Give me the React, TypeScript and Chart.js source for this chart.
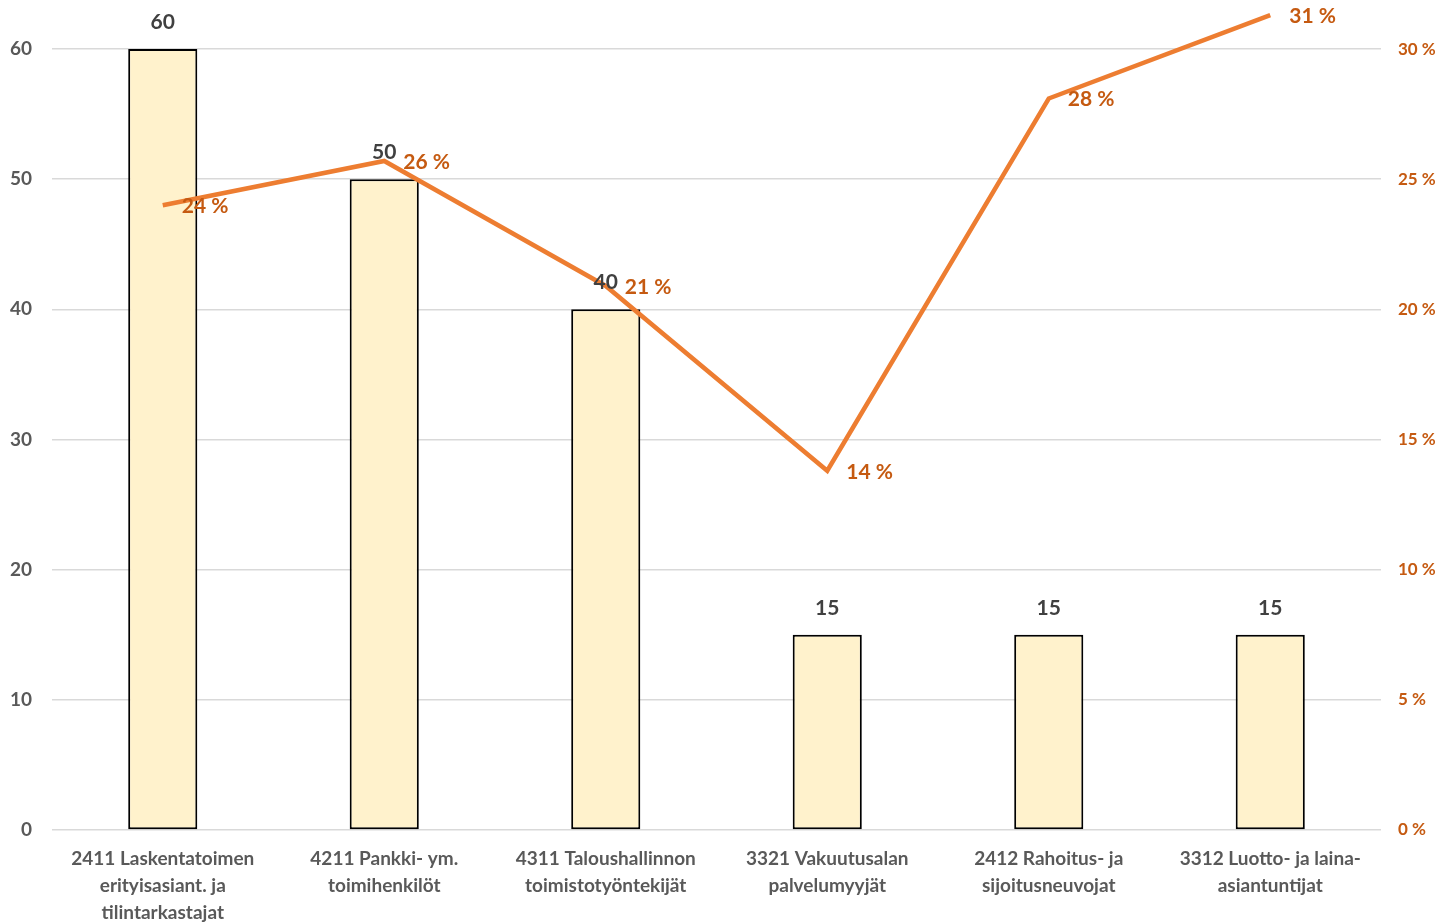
import React, { useEffect, useRef } from "react";
import { Chart, registerables } from "chart.js";

Chart.register(...registerables);

const categories: string[][] = [
  ["2411 Laskentatoimen", "erityisasiant. ja", "tilintarkastajat"],
  ["4211 Pankki- ym.", "toimihenkilöt"],
  ["4311 Taloushallinnon", "toimistotyöntekijät"],
  ["3321 Vakuutusalan", "palvelumyyjät"],
  ["2412 Rahoitus- ja", "sijoitusneuvojat"],
  ["3312 Luotto- ja laina-", "asiantuntijat"],
];
const barValues = [60, 50, 40, 15, 15, 15];
const pctValues = [24.0, 25.7, 20.9, 13.8, 28.1, 31.3];
const leftTicks = [0, 10, 20, 30, 40, 50, 60];
const rightTicks = [0, 5, 10, 15, 20, 25, 30];

const FONT = 'Lato, "Open Sans", sans-serif';
const GRAY = "#595959";
const DARK = "#404040";
const ORANGE_TXT = "#C55A11";
const ORANGE = "#ED7D31";

const labelPlugin = {
  id: "valueLabels",
  afterDatasetsDraw(chart: any) {
    const ctx = chart.ctx;
    ctx.save();
    const barMeta = chart.getDatasetMeta(0);
    ctx.font = `bold 21px ${FONT}`;
    ctx.fillStyle = DARK;
    ctx.textAlign = "center";
    ctx.textBaseline = "middle";
    barMeta.data.forEach((el: any, i: number) => {
      ctx.fillText(String(barValues[i]), el.x, el.y - 27);
    });
    const lineMeta = chart.getDatasetMeta(1);
    ctx.fillStyle = ORANGE_TXT;
    ctx.textAlign = "left";
    lineMeta.data.forEach((el: any, i: number) => {
      ctx.fillText(`${Math.round(pctValues[i])} %`, el.x + 19, el.y + 1);
    });
    ctx.restore();
  },
};

export default function App() {
  const ref = useRef<HTMLCanvasElement>(null);
  useEffect(() => {
    document.body.style.margin = "0";
    const chart = new Chart(ref.current!, {
      type: "bar",
      data: {
        labels: categories,
        datasets: [
          {
            type: "bar",
            data: barValues,
            yAxisID: "y",
            backgroundColor: "#FFF2CC",
            borderColor: "#000000",
            borderWidth: 2,
            borderSkipped: false,
            categoryPercentage: 1,
            barPercentage: 0.312,
            order: 2,
          } as any,
          {
            type: "line",
            data: pctValues,
            yAxisID: "y1",
            borderColor: ORANGE,
            borderWidth: 4.5,
            pointRadius: 0,
            tension: 0,
            clip: false,
            order: 1,
          } as any,
        ],
      },
      options: {
        animation: false,
        responsive: true,
        maintainAspectRatio: false,
        layout: { padding: { top: 10, left: 0, right: 0, bottom: 0 } },
        plugins: {
          legend: { display: false },
          tooltip: { enabled: false },
        },
        scales: {
          x: {
            grid: { display: false, drawTicks: false },
            border: { display: false },
            ticks: {
              color: GRAY,
              font: { family: FONT, size: 19, weight: "bold", lineHeight: 1.4 },
              padding: 16,
              maxRotation: 0,
              autoSkip: false,
            },
            afterFit: (s: any) => {
              s.height = 94;
              s.paddingLeft = 0;
              s.paddingRight = 0;
            },
          },
          y: {
            position: "left",
            min: 0,
            max: 63,
            afterBuildTicks: (axis: any) => {
              axis.ticks = leftTicks.map((v) => ({ value: v }));
            },
            grid: { color: "#D9D9D9", lineWidth: 1.5, drawTicks: false },
            border: { display: false },
            ticks: {
              color: GRAY,
              font: { family: FONT, size: 19, weight: "bold" },
              padding: 20,
            },
            afterFit: (s: any) => {
              s.width = 52;
              s.paddingTop = 0;
              s.paddingBottom = 0;
            },
          },
          y1: {
            position: "right",
            min: 0,
            max: 31.5,
            afterBuildTicks: (axis: any) => {
              axis.ticks = rightTicks.map((v) => ({ value: v }));
            },
            grid: { display: false, drawTicks: false },
            border: { display: false },
            ticks: {
              color: ORANGE_TXT,
              font: { family: FONT, size: 17, weight: "bold" },
              padding: 17,
              callback: (v: any) => `${v} %`,
            },
            afterFit: (s: any) => {
              s.width = 63;
              s.paddingTop = 0;
              s.paddingBottom = 0;
            },
          },
        },
      },
      plugins: [labelPlugin],
    });
    return () => chart.destroy();
  }, []);
  return (
    <div style={{ width: "1444px", height: "924px", position: "relative" }}>
      <canvas ref={ref} />
    </div>
  );
}
